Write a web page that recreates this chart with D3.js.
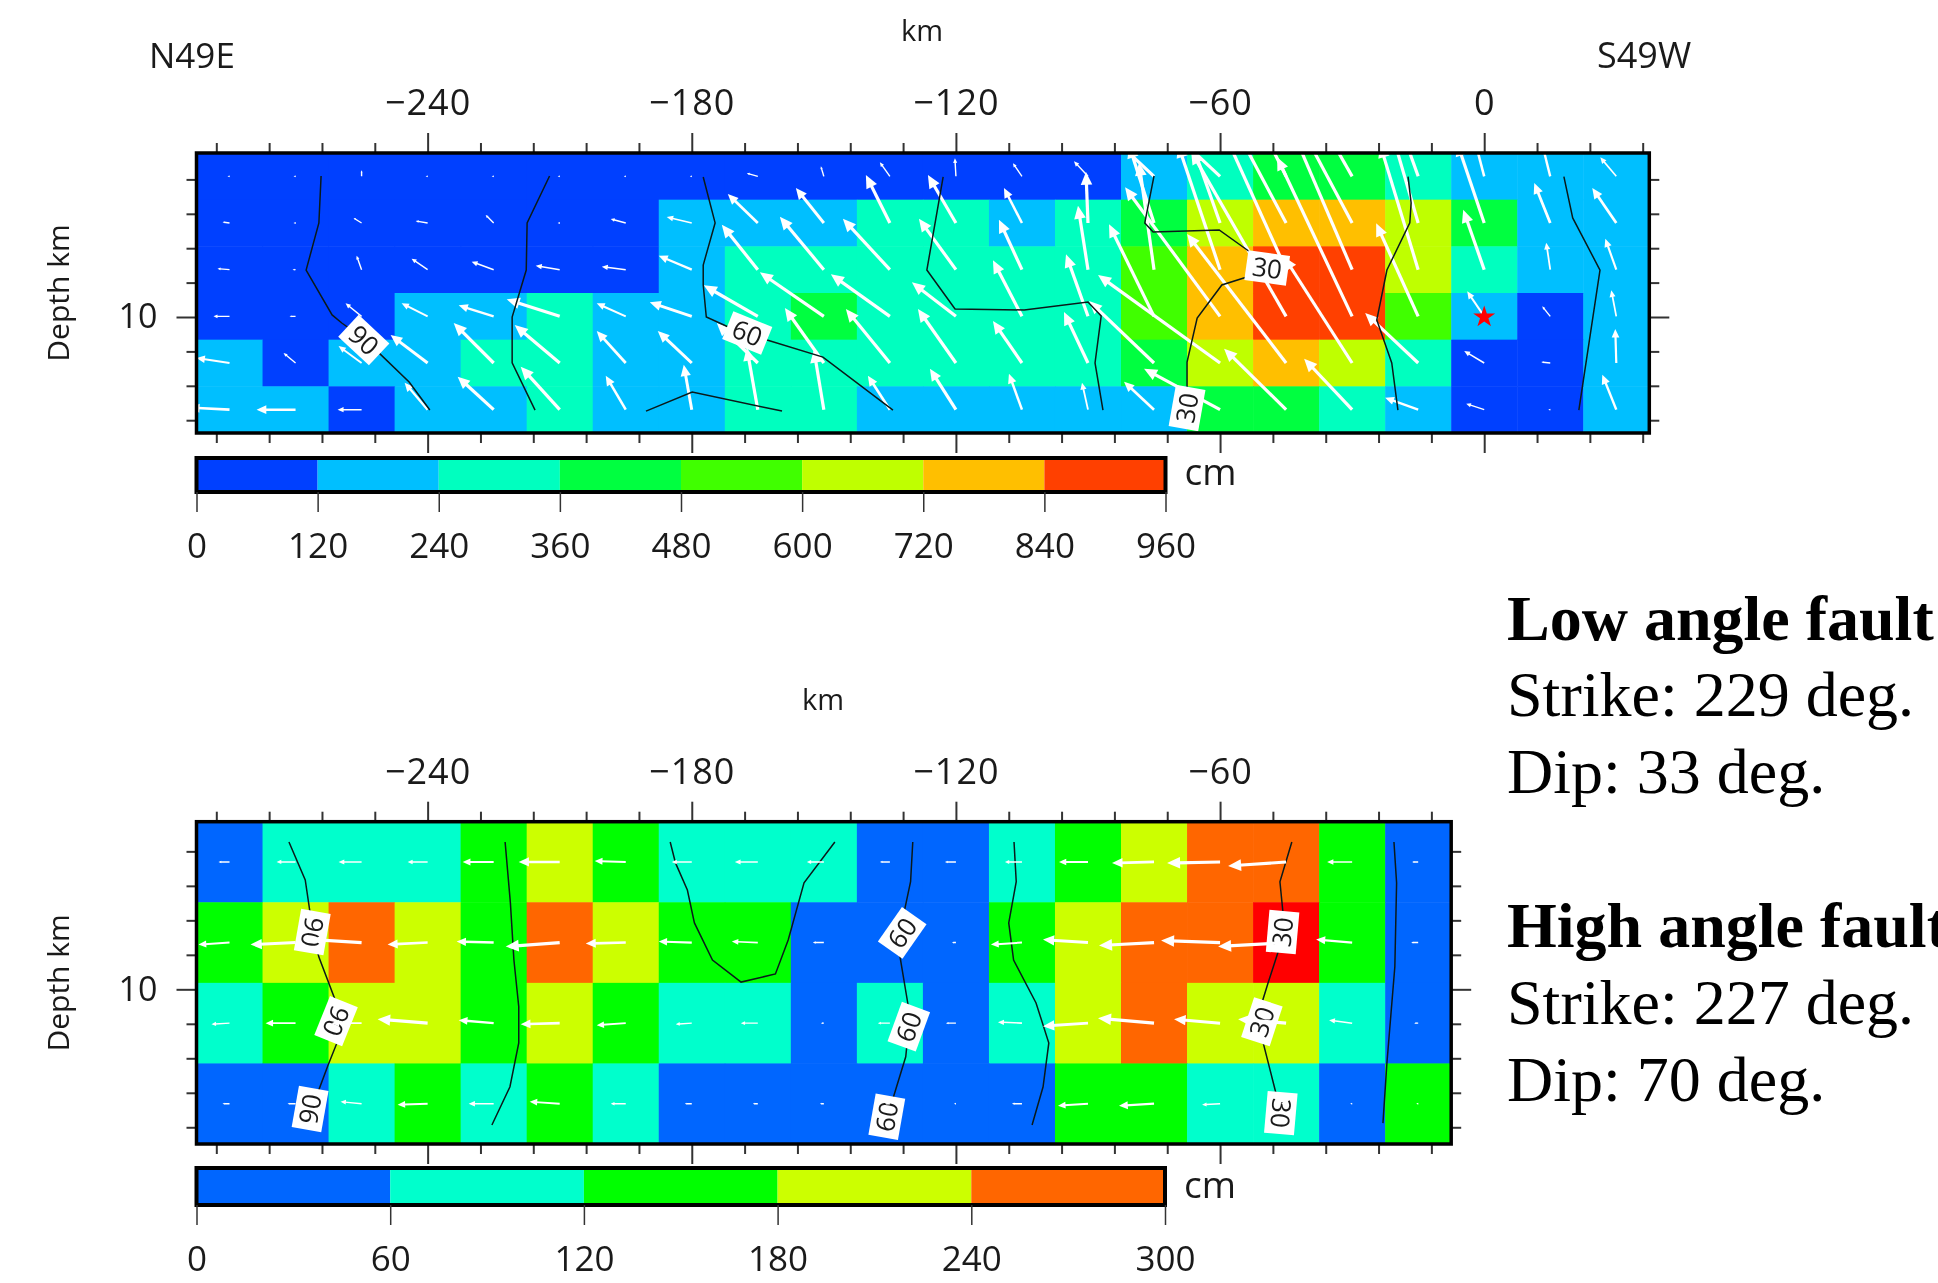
<!DOCTYPE html>
<html>
<head>
<meta charset="utf-8">
<title>Slip models</title>
<script src="https://d3js.org/d3.v7.min.js"></script>
<style>
  html, body { margin: 0; background: #fff; overflow: hidden; }
  svg { display: block; filter: blur(0.55px); }
  text { font-family: "Open Sans", sans-serif; fill: #1a1a1a; }
  .note { font-family: "Liberation Serif", serif; font-size: 64px; fill: #000; }
  .note.head { font-weight: bold; }
  .tick text { font-size: 36px; letter-spacing: 1px; font-family: "Open Sans", sans-serif; fill: #1a1a1a; }
  .tick line { stroke: #333; stroke-width: 2; }
  .domain { display: none; }
</style>
</head>
<body>
<svg id="chart" width="1938" height="1283"></svg>
<script>
// slip in each subfault, cm (middle of the colour class)
const lowSlip = [
  [60,60,60,60,60,60,60,60,60,60,60,60,60,60,180,300,420,420,300,180,180,180],
  [60,60,60,60,60,60,60,180,180,180,300,300,180,300,420,660,780,780,660,420,180,180],
  [60,60,60,60,60,60,60,180,300,300,300,300,300,300,540,780,900,900,660,300,180,180],
  [60,60,60,180,180,300,180,180,300,420,300,300,300,300,540,780,900,900,540,180,60,180],
  [180,60,180,180,300,300,180,180,300,300,300,300,300,300,420,660,780,660,300,60,60,180],
  [180,180,60,180,180,300,180,180,300,300,180,180,180,180,180,420,420,300,180,60,60,180],
];
const highSlip = [
  [30,90,90,90,150,210,150,90,90,90,30,30,90,150,210,270,270,150,30],
  [150,210,270,210,150,270,210,150,150,30,30,30,150,210,270,270,330,150,30],
  [90,150,210,210,150,210,150,90,90,30,90,30,90,210,270,210,210,90,30],
  [30,30,90,150,90,150,90,30,30,30,30,30,30,150,150,90,90,30,150],
];

// slip vectors, cm: along strike (U) and up dip (V)
const lowU = [
  [-5,-5,0,-5,-5,-5,-5,-5,-55,-15,-50,-5,-45,-70,-225,-225,-150,-200,-100,-50,-45,-80],
  [-35,-5,-40,-60,-40,-5,-75,-125,-150,-140,-120,-140,-90,-10,-125,-150,-400,-400,-175,-135,-80,-120],
  [-60,-15,-25,-80,-110,-120,-120,-165,-180,-220,-235,-185,-115,-50,-75,-210,-350,-375,-190,-105,-20,-55],
  [-80,-30,-80,-130,-175,-265,-145,-210,-270,-320,-295,-220,-145,-110,-225,-475,-475,-375,-210,-85,-40,-25],
  [-165,-60,-115,-185,-200,-225,-145,-170,-205,-195,-220,-190,-145,-120,-325,-610,-495,-340,-265,-100,-45,-5],
  [-200,-195,-120,-115,-180,-195,-100,-40,-55,-50,-110,-130,-65,-30,-150,-380,-310,-240,-165,-90,-10,-70],
];
const lowV = [
  [0,0,30,0,0,0,0,0,15,50,70,90,65,75,210,210,300,350,280,190,180,95],
  [5,0,25,10,40,0,20,30,145,175,240,240,175,255,390,425,750,750,600,400,200,175],
  [5,0,70,55,40,20,15,70,225,265,255,255,250,320,535,625,775,875,625,300,135,155],
  [0,0,65,65,55,85,65,70,155,220,210,170,280,310,460,645,825,795,465,125,50,130],
  [25,50,85,140,200,190,160,160,200,275,270,270,210,255,310,440,645,530,250,60,5,170],
  [10,0,0,135,165,215,170,225,310,300,170,205,180,135,140,205,305,255,60,30,0,175],
];
const highU = [
  [-55,-95,-115,-100,-155,-205,-155,-100,-115,-85,-50,-55,-85,-145,-210,-265,-290,-125,-30],
  [-155,-225,-250,-200,-185,-270,-200,-165,-130,-55,-35,-20,-155,-225,-275,-295,-340,-180,-35],
  [-90,-150,-150,-250,-175,-195,-145,-80,-85,-15,-60,-50,-120,-225,-280,-230,-240,-115,-20],
  [-35,-40,-105,-150,-125,-150,-75,-35,-25,-20,-25,-10,-50,-150,-175,-90,-25,-10,-10],
];
const highV = [
  [0,0,0,0,0,0,5,0,0,0,0,0,0,0,-5,-5,-20,0,0],
  [-10,-10,15,-10,5,-20,-5,5,5,0,0,0,-10,15,-15,10,-20,15,0],
  [-5,0,0,20,15,-5,-10,-5,0,0,0,0,5,-15,25,20,20,15,0],
  [0,0,10,-5,0,10,0,0,0,0,0,0,0,-10,-10,-5,0,0,0],
];

// rupture time contours, [km along strike, depth km]
const lowContours = [
  [[-264.2,1.8],[-264.7,4.53],[-267.6,7.27],[-261.7,9.88],[-259.5,10.35],[-254.7,11.22],[-251.3,12.03],[-244.2,13.78],[-239.5,15.41]],
  [[-212.3,1.8],[-217.4,4.53],[-217.6,7.27],[-220.8,10],[-220.8,12.67],[-215.6,15.41]],
  [[-177.4,1.86],[-174.7,4.53],[-177.4,6.98],[-177.4,8.14],[-176.7,10],[-171.7,10.58],[-167.4,10.93],[-162.9,11.34],[-150.2,12.33],[-134.3,15.41]],
  [[-190.4,15.47],[-179.9,14.36],[-159.5,15.47]],
  [[-122.9,1.86],[-126.6,7.27],[-120.2,9.53],[-104.5,9.59],[-90,9.13],[-87,9.94],[-88.4,12.67],[-86.6,15.41]],
  [[-75,1.8],[-77.1,4.53],[-75.2,5.06],[-60.2,4.94],[-53.2,6.22],[-49.3,7.15],[-53.9,7.67],[-59.6,8.14],[-65.2,10.06],[-67.5,12.62],[-67.5,14.13],[-67.5,15.29]],
  [[-17.3,1.84],[-16.6,3.37],[-16.9,4.53],[-22.1,7.27],[-24.4,10.17],[-21,12.67],[-19.6,15.41]],
  [[18.1,1.84],[20.1,4.24],[26.3,7.27],[21.5,15.41]],
];
const highContours = [
  [[-271.5,1.46],[-267.8,3.66],[-266.7,5.57],[-266.2,6.68],[-264.7,8.13],[-261,10.62],[-260.8,11.84],[-260.6,13.11],[-262.6,14.39],[-264.9,15.96],[-266.7,16.94]],
  [[-222.4,1.46],[-221.2,4.99],[-220.4,8.3],[-219.3,11.01],[-219.3,13.11],[-221.3,15.65],[-225.4,17.87]],
  [[-184.9,1.46],[-183.7,2.67],[-181,4.24],[-179.4,6.15],[-175.3,8.3],[-168.8,9.58],[-161,9.11],[-158.1,7.14],[-154.5,3.83],[-147.5,1.46]],
  [[-129.8,1.46],[-130.3,3.76],[-131.8,5.57],[-132.2,6.73],[-132.7,8.11],[-130.8,11.01],[-130.7,12.17],[-131.4,13.91],[-134.4,16.42],[-135.7,17.39]],
  [[-106.8,1.46],[-106.3,3.76],[-108,6.15],[-106.9,8.3],[-101.8,10.79],[-98.9,13.11],[-100.2,15.65],[-102.7,17.87]],
  [[-43.7,1.46],[-46.4,3.76],[-45.7,5.57],[-45.8,6.68],[-46.8,7.82],[-49.1,9.63],[-50.5,10.79],[-50.5,11.88],[-50.2,13.11],[-47.1,16.23],[-46.2,17.18]],
  [[-20.5,1.46],[-19.9,3.83],[-20.3,8.69],[-22.1,14.27],[-23,17.76]],
];
// contour labels: km, depth, text, rotation
const lowLabels = [
  [-254.5,11.34,'90',43],
  [-167.4,10.93,'60',22],
  [-49.3,7.15,'30',8],
  [-67.5,15.29,'30',-80],
];
const highLabels = [
  [-266.2,6.68,'90',100],
  [-260.8,11.84,'90',112],
  [-266.7,16.94,'90',-80],
  [-132.2,6.73,'60',-55],
  [-130.7,12.17,'60',-70],
  [-135.7,17.39,'60',-80],
  [-45.8,6.68,'30',-85],
  [-50.5,11.88,'30',-72],
  [-46.2,17.18,'30',95],
];

const lowBreaks = [120, 240, 360, 480, 600, 720, 840];
const lowColors = ['#0040ff', '#00bfff', '#00ffbf', '#00ff40', '#40ff00', '#bfff00', '#ffbf00', '#ff4000'];
const lowTicks = [0, 120, 240, 360, 480, 600, 720, 840, 960];
const highBreaks = [60, 120, 180, 240, 300];
const highColors = ['#0066ff', '#00ffcc', '#00ff00', '#ccff00', '#ff6600', '#ff0000'];
const highTicks = [0, 60, 120, 180, 240, 300];

const kmMajor = [-240, -180, -120, -60, 0];
const kmMinor = d3.range(-288, 37, 12).filter(d => d % 60 !== 0);
const depthMinor = [2, 4, 6, 8, 12, 14, 16, 18];
const hypocentre = [0, 10];

const svg = d3.select('#chart');
const cellKm = 15;
const leftKm = -292.5;
const kmPerPx = 330 / 1452.8;
const arrowLen = d3.scaleLinear().domain([0, 1000]).range([0, 200]);

function drawPanel(p, id) {
  const cols = p.slip[0].length;
  const rows = p.slip.length;
  const g = svg.append('g');
  const rightKm = leftKm + cols * cellKm;
  const x = d3.scaleLinear().domain([leftKm, rightKm])
    .range([196.5, 196.5 + cols * cellKm / kmPerPx]);
  const y = d3.scaleLinear().domain(p.depth).range(p.yRange);
  const rowBand = d3.scaleBand().domain(d3.range(rows)).range(p.yRange);
  const colBand = d3.scaleBand().domain(d3.range(cols)).range(x.range());
  const color = d3.scaleThreshold().domain(p.breaks).range(p.colors);

  // subfaults
  p.slip.forEach((row, r) => {
    g.append('g').selectAll('rect').data(row).join('rect')
      .attr('x', (d, c) => colBand(c))
      .attr('y', rowBand(r))
      .attr('width', colBand.bandwidth() + 0.5)
      .attr('height', rowBand.bandwidth() + 0.5)
      .attr('fill', d => color(d));
  });

  svg.append('clipPath').attr('id', id)
    .append('rect')
    .attr('x', x.range()[0]).attr('y', p.yRange[0])
    .attr('width', x.range()[1] - x.range()[0])
    .attr('height', p.yRange[1] - p.yRange[0]);
  const plot = g.append('g').attr('clip-path', `url(#${id})`);

  function drawContours() {
    const line = d3.line().x(d => x(d[0])).y(d => y(d[1]));
    plot.append('g').selectAll('path').data(p.contours).join('path')
      .attr('d', line)
      .attr('fill', 'none')
      .attr('stroke', '#0a1a1a')
      .attr('stroke-width', 1.5);
    const lab = plot.append('g').selectAll('g').data(p.labels).join('g')
      .attr('transform', d => `translate(${x(d[0])},${y(d[1])}) rotate(${d[3]})`);
    lab.append('rect')
      .attr('x', -21).attr('y', -15).attr('width', 42).attr('height', 30)
      .attr('fill', '#fff');
    lab.append('text')
      .attr('text-anchor', 'middle').attr('dy', '0.36em')
      .style('font-size', '26px')
      .text(d => d[2]);
  }

  function drawArrows() {
    const vectors = [];
    p.u.forEach((row, r) => row.forEach((u, c) => {
      vectors.push({u: u, v: p.v[r][c], c: c, r: r});
    }));
    const arrows = plot.append('g').selectAll('g').data(vectors).join('g')
      .attr('transform', (d) => {
        const cx = colBand(d.c) + colBand.bandwidth() / 2;
        const cy = rowBand(d.r) + rowBand.bandwidth() / 2;
        const angle = Math.atan2(-d.v, d.u) * 180 / Math.PI;
        return `translate(${cx},${cy}) rotate(${angle})`;
      });
    const len = d => Math.max(arrowLen(Math.hypot(d.u, d.v)), 2);
    const headLen = d => Math.min(13, Math.max(2, len(d) * 0.25));
    arrows.append('line')
      .attr('x2', d => len(d) - headLen(d) * 0.8)
      .attr('stroke', '#fff')
      .attr('stroke-width', d => Math.min(3.2, Math.max(1.4, len(d) * 0.065)));
    arrows.append('path')
      .attr('fill', '#fff')
      .attr('d', (d) => {
        const l = len(d);
        const h = headLen(d);
        return `M${l},0L${l - h},${-h * 0.45}L${l - h},${h * 0.45}Z`;
      });
  }

  // the labels sit on top of the vectors above, and under them below
  if (p.labelsOnTop) {
    drawArrows();
    drawContours();
  } else {
    drawContours();
    drawArrows();
  }

  if (p.star) {
    plot.append('path')
      .attr('d', d3.symbol().type(d3.symbolStar).size(150)())
      .attr('transform', `translate(${x(p.star[0])},${y(p.star[1])})`)
      .attr('fill', '#ff0000');
  }

  // frame and ticks
  const major = kmMajor.filter(d => d < rightKm);
  const minor = kmMinor.filter(d => d < rightKm);
  const yTop = p.yRange[0];
  const yBot = p.yRange[1];
  const xLeft = x.range()[0];
  const xRight = x.range()[1];
  const fmt = d3.format('d');
  g.append('g').attr('transform', `translate(0,${yTop})`)
    .call(d3.axisTop(x).tickValues(major).tickSize(20).tickPadding(18).tickFormat(fmt));
  g.append('g').attr('transform', `translate(0,${yTop})`)
    .call(d3.axisTop(x).tickValues(minor).tickSize(10).tickFormat(''));
  g.append('g').attr('transform', `translate(0,${yBot})`)
    .call(d3.axisBottom(x).tickValues(major).tickSize(20).tickFormat(''));
  g.append('g').attr('transform', `translate(0,${yBot})`)
    .call(d3.axisBottom(x).tickValues(minor).tickSize(10).tickFormat(''));
  const dm = depthMinor.filter(d => d < p.depth[1]);
  const tenAxis = g.append('g').attr('transform', `translate(${xLeft},0)`)
    .call(d3.axisLeft(y).tickValues([10]).tickSize(20).tickPadding(19).tickFormat(fmt));
  tenAxis.selectAll('text').style('font-size', '34px').style('letter-spacing', '0');
  g.append('g').attr('transform', `translate(${xLeft},0)`)
    .call(d3.axisLeft(y).tickValues(dm).tickSize(10).tickFormat(''));
  g.append('g').attr('transform', `translate(${xRight},0)`)
    .call(d3.axisRight(y).tickValues([10]).tickSize(20).tickFormat(''));
  g.append('g').attr('transform', `translate(${xRight},0)`)
    .call(d3.axisRight(y).tickValues(dm).tickSize(10).tickFormat(''));
  g.append('rect')
    .attr('x', xLeft).attr('y', yTop)
    .attr('width', xRight - xLeft).attr('height', yBot - yTop)
    .attr('fill', 'none').attr('stroke', '#000').attr('stroke-width', 3.5);

  // axis titles
  g.append('text').attr('x', p.kmX).attr('y', p.kmY)
    .attr('text-anchor', 'middle').style('font-size', '29px').text('km');
  g.append('text')
    .attr('transform', `translate(69,${(yTop + yBot) / 2 + (p.depthShift || 0)}) rotate(-90)`)
    .attr('text-anchor', 'middle').style('font-size', '30px').text('Depth km');

  // colour bar
  const bar = p.bar;
  const maxTick = bar.ticks[bar.ticks.length - 1];
  const bx = d3.scaleLinear().domain([0, maxTick]).range([196.5, bar.right]);
  const bounds = [0].concat(p.breaks.filter(d => d < maxTick), [maxTick]);
  g.append('g').selectAll('rect').data(d3.pairs(bounds)).join('rect')
    .attr('x', d => bx(d[0]))
    .attr('y', bar.top)
    .attr('width', d => bx(d[1]) - bx(d[0]))
    .attr('height', bar.bottom - bar.top)
    .attr('fill', d => color(d[0]));
  g.append('rect')
    .attr('x', 196.5).attr('y', bar.top)
    .attr('width', bar.right - 196.5).attr('height', bar.bottom - bar.top)
    .attr('fill', 'none').attr('stroke', '#000').attr('stroke-width', 4);
  const barAxis = g.append('g').attr('transform', `translate(0,${bar.bottom})`)
    .call(d3.axisBottom(bx).tickValues(bar.ticks).tickSize(20).tickPadding(21).tickFormat(fmt));
  barAxis.selectAll('line').style('stroke-width', 1.5);
  barAxis.selectAll('text').style('font-size', '35px').style('letter-spacing', '0');
  g.append('text').attr('x', bar.right + 19).attr('y', bar.cmY)
    .style('font-size', '37px').text('cm');
}

drawPanel({
  slip: lowSlip, u: lowU, v: lowV,
  breaks: lowBreaks, colors: lowColors,
  contours: lowContours, labels: lowLabels,
  labelsOnTop: true, star: hypocentre,
  depth: [0.465, 16.744], yRange: [153, 433],
  kmX: 922, kmY: 41,
  bar: {top: 458, bottom: 492, right: 1165.5, ticks: lowTicks, cmY: 485},
}, 'clip-low');

drawPanel({
  slip: highSlip, u: highU, v: highV,
  breaks: highBreaks, colors: highColors,
  contours: highContours, labels: highLabels,
  labelsOnTop: false,
  depth: [0.28, 18.97], yRange: [821.7, 1144],
  kmX: 823, kmY: 710,
  bar: {top: 1168, bottom: 1205, right: 1165, ticks: highTicks, cmY: 1197.7},
}, 'clip-high');

svg.append('text').attr('x', 149).attr('y', 68).style('font-size', '35px').text('N49E');
svg.append('text').attr('x', 1597).attr('y', 68).style('font-size', '36px').text('S49W');

const notes = [
  ['Low angle fault', true, 639.6],
  ['Strike: 229 deg.', false, 716.4],
  ['Dip: 33 deg.', false, 793],
  ['High angle fault', true, 946.8],
  ['Strike: 227 deg.', false, 1023.6],
  ['Dip: 70 deg.', false, 1101],
];
svg.selectAll('.note').data(notes).join('text')
  .attr('class', d => (d[1] ? 'note head' : 'note'))
  .attr('x', 1507)
  .attr('y', d => d[2])
  .text(d => d[0]);
</script>
</body>
</html>
